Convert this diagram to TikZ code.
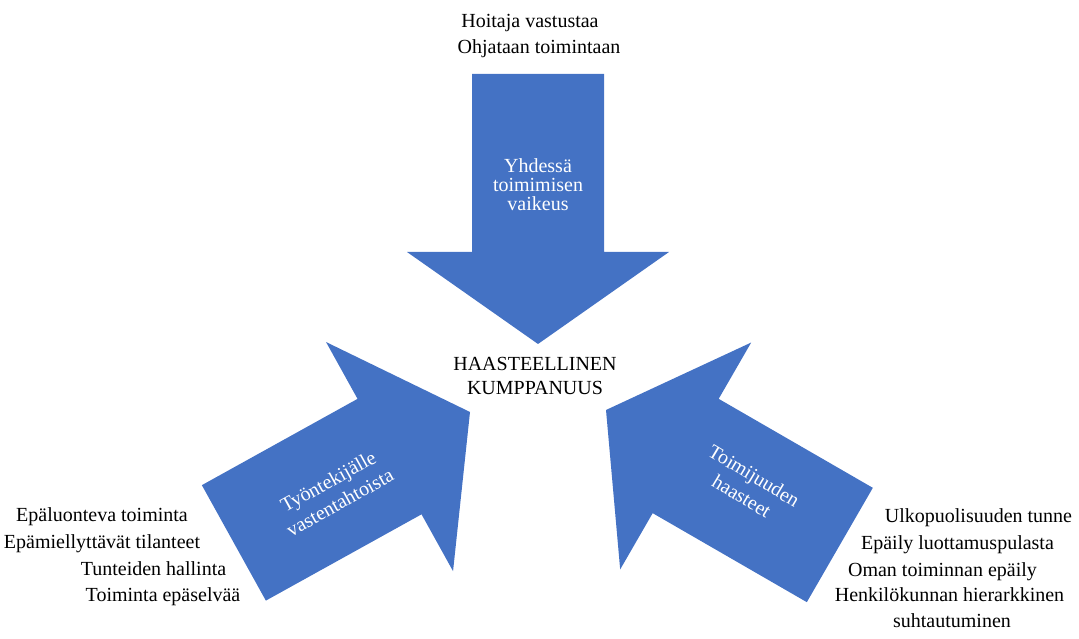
\documentclass[tikz,border=0pt]{standalone}
\usepackage{fontspec}
\setmainfont{Liberation Serif}
\usepackage{tikz}
\usetikzlibrary{positioning}
\definecolor{arrowc}{HTML}{4472C4}
\tikzset{
  blk/.style={fill=arrowc},
  inl/.style={text=white,align=center,inner sep=0pt,font=\fontsize{20}{19}\selectfont},
  rotl/.style={inl,font=\fontsize{20}{24}\selectfont},
  sidel/.style={anchor=base,inner sep=0pt}
}

\begin{document}
\begin{tikzpicture}[x=1pt,y=1pt,font=\fontsize{20}{24}\selectfont]
\useasboundingbox (0,0) rectangle (1079,639);
% block arrows, tip at origin pointing along +x
\foreach \tx/\ty/\ang in {538/295/-90,470/227/29,606/229/150}{
  \fill[blk,shift={(\tx,\ty)},rotate=\ang] (0,0)--(-92,131)--(-92,66)--(-270,66)--(-270,-66)--(-92,-66)--(-92,-131)--cycle;
}
\node[inl] (yhd) at (538,454) {Yhdessä\\toimimisen\\vaikeus};
\node[rotl,rotate=29] (tyon) at (334,147) {Työntekijälle\\vastentahtoista};
\node[rotl,rotate=-31] (toim) at (748,153) {Toimijuuden\\haasteet};
\node[align=center,inner sep=0pt] (haaste) at (535,263.5) {HAASTEELLINEN\\KUMPPANUUS};
% texts round the arrows
\node[sidel] (hoit) at (530,611) {Hoitaja vastustaa};
\node[sidel] (ohj) at (539,585) {Ohjataan toimintaan};
\foreach \t/\x/\y [count=\i] in {Epäluonteva toiminta/102/117,Epämiellyttävät tilanteet/102/90,Tunteiden hallinta/153.5/63,Toiminta epäselvää/163/37}
  \node[sidel] (vas\i) at (\x,\y) {\t};
\foreach \t/\x/\y [count=\i] in {Ulkopuolisuuden tunne/978.5/116,Epäily luottamuspulasta/957.5/89,Oman toiminnan epäily/942.5/62,Henkilökunnan hierarkkinen/949.5/37,suhtautuminen/952/11}
  \node[sidel] (oik\i) at (\x,\y) {\t};
\end{tikzpicture}
\end{document}
